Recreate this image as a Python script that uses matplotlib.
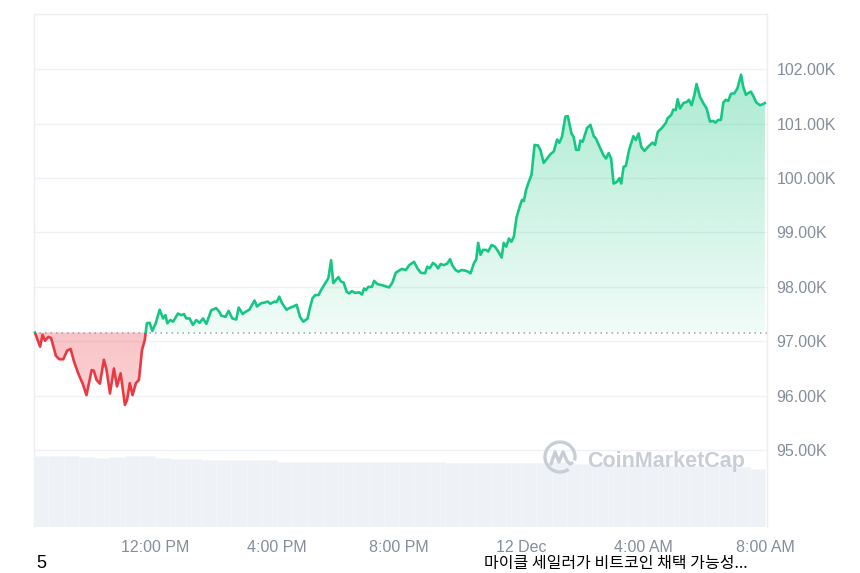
import numpy as np
import matplotlib
matplotlib.use("Agg")
import matplotlib.pyplot as plt
from matplotlib.patches import Rectangle, Arc
from matplotlib.path import Path
from matplotlib.lines import Line2D
from matplotlib.colors import to_rgb

# BTC price, 11 Dec 8 AM -> 12 Dec 8 AM (hours since 11 Dec 00:00, price in K USD)
hours = [
    8.06, 8.23, 8.31, 8.39, 8.50, 8.59, 8.75, 8.86, 8.99, 9.12,
    9.23, 9.34, 9.48, 9.64, 9.75, 9.92, 9.99, 10.08, 10.19, 10.32,
    10.41, 10.52, 10.65, 10.75, 10.87, 11.01, 11.08, 11.17, 11.26, 11.37,
    11.47, 11.57, 11.66, 11.73, 11.82, 11.91, 12.02, 12.15, 12.26, 12.34,
    12.40, 12.50, 12.59, 12.75, 12.86, 12.95, 13.02, 13.13, 13.24, 13.35,
    13.46, 13.57, 13.68, 13.84, 14.00, 14.11, 14.17, 14.31, 14.41, 14.53,
    14.66, 14.74, 14.87, 14.96, 15.09, 15.26, 15.34, 15.48, 15.58, 15.69,
    15.78, 15.91, 15.99, 16.07, 16.16, 16.31, 16.40, 16.53, 16.64, 16.75,
    16.86, 17.00, 17.06, 17.16, 17.25, 17.36, 17.44, 17.58, 17.68, 17.77,
    17.84, 17.93, 18.01, 18.09, 18.18, 18.28, 18.36, 18.45, 18.56, 18.69,
    18.78, 18.85, 18.91, 18.99, 19.11, 19.18, 19.29, 19.45, 19.67, 19.78,
    19.89, 20.00, 20.09, 20.22, 20.33, 20.49, 20.60, 20.71, 20.85, 20.92,
    21.00, 21.11, 21.20, 21.28, 21.36, 21.47, 21.58, 21.67, 21.74, 21.85,
    21.94, 22.05, 22.16, 22.26, 22.34, 22.45, 22.53, 22.59, 22.67, 22.75,
    22.85, 22.92, 23.03, 23.14, 23.25, 23.36, 23.43, 23.51, 23.60, 23.68,
    23.76, 23.85, 23.96, 24.03, 24.09, 24.16, 24.25, 24.34, 24.44, 24.55,
    24.63, 24.74, 24.85, 24.96, 25.07, 25.18, 25.25, 25.34, 25.45, 25.53,
    25.65, 25.72, 25.80, 25.89, 25.94, 26.02, 26.16, 26.27, 26.38, 26.45,
    26.56, 26.70, 26.78, 26.87, 26.95, 27.03, 27.14, 27.22, 27.28, 27.36,
    27.43, 27.54, 27.68, 27.76, 27.85, 27.94, 28.04, 28.17, 28.30, 28.39,
    28.48, 28.61, 28.74, 28.80, 28.92, 28.99, 29.07, 29.13, 29.21, 29.32,
    29.43, 29.50, 29.59, 29.68, 29.75, 29.86, 29.97, 30.08, 30.19, 30.30,
    30.37, 30.46, 30.55, 30.63, 30.71, 30.79, 30.88, 30.99, 31.09, 31.21,
    31.28, 31.37, 31.44, 31.53, 31.61, 31.71, 31.83, 31.93, 31.99,
]
price = [
    97.16, 96.90, 97.12, 97.01, 97.08, 97.06, 96.73, 96.67, 96.67, 96.83,
    96.86, 96.63, 96.41, 96.20, 96.01, 96.47, 96.46, 96.29, 96.22, 96.66,
    96.47, 96.04, 96.50, 96.17, 96.41, 95.83, 95.92, 96.23, 96.01, 96.23,
    96.29, 96.84, 97.02, 97.33, 97.34, 97.19, 97.33, 97.58, 97.42, 97.48,
    97.33, 97.39, 97.36, 97.51, 97.48, 97.50, 97.42, 97.42, 97.30, 97.39,
    97.34, 97.42, 97.32, 97.57, 97.61, 97.54, 97.47, 97.45, 97.56, 97.42,
    97.40, 97.62, 97.50, 97.54, 97.58, 97.75, 97.64, 97.70, 97.71, 97.73,
    97.69, 97.73, 97.72, 97.82, 97.70, 97.58, 97.61, 97.64, 97.67, 97.45,
    97.36, 97.42, 97.58, 97.79, 97.85, 97.85, 97.94, 98.07, 98.16, 98.49,
    98.07, 98.13, 98.18, 98.10, 98.08, 97.91, 97.88, 97.92, 97.89, 97.90,
    97.86, 97.97, 97.94, 98.00, 98.00, 98.11, 98.05, 98.03, 97.99, 98.08,
    98.26, 98.30, 98.33, 98.31, 98.40, 98.46, 98.34, 98.26, 98.25, 98.37,
    98.34, 98.44, 98.40, 98.34, 98.42, 98.40, 98.43, 98.51, 98.40, 98.31,
    98.28, 98.31, 98.30, 98.28, 98.25, 98.43, 98.51, 98.81, 98.59, 98.68,
    98.68, 98.65, 98.77, 98.74, 98.65, 98.54, 98.81, 98.74, 98.89, 98.83,
    98.92, 99.28, 99.49, 99.60, 99.58, 99.78, 99.93, 100.06, 100.61, 100.60,
    100.52, 100.28, 100.36, 100.44, 100.49, 100.71, 100.65, 100.76, 101.13, 101.14,
    100.82, 100.76, 100.52, 100.52, 100.69, 100.67, 100.92, 100.98, 100.77, 100.73,
    100.59, 100.42, 100.36, 100.46, 100.36, 99.90, 99.93, 100.00, 99.90, 100.21,
    100.22, 100.52, 100.77, 100.70, 100.82, 100.57, 100.50, 100.58, 100.65, 100.61,
    100.85, 100.92, 101.01, 101.10, 101.16, 101.26, 101.25, 101.45, 101.28, 101.38,
    101.40, 101.44, 101.34, 101.53, 101.73, 101.50, 101.38, 101.28, 101.04, 101.05,
    101.02, 101.07, 101.07, 101.39, 101.44, 101.42, 101.55, 101.56, 101.65, 101.90,
    101.68, 101.53, 101.56, 101.59, 101.51, 101.39, 101.34, 101.36, 101.38,
]
open_price = 97.16

# volume, 30 minute buckets (relative units)
vol_start = [8.0 + 0.5 * i for i in range(48)]
volume = [
    7.10, 7.10, 7.10, 7.05, 6.95, 7.00, 7.10, 7.10, 6.95, 6.85,
    6.80, 6.75, 6.67, 6.67, 6.67, 6.67, 6.55, 6.53, 6.53, 6.53,
    6.53, 6.53, 6.53, 6.53, 6.53, 6.53, 6.50, 6.43, 6.43, 6.40,
    6.37, 6.37, 6.37, 6.45, 6.50, 6.35, 6.35, 6.30, 6.25, 6.25,
    6.20, 6.15, 6.15, 6.15, 6.15, 6.15, 6.00, 5.85,
]

tick_hours = [12, 16, 20, 24, 28, 32]
tick_labels = ['12:00 PM', '4:00 PM', '8:00 PM', '12 Dec', '4:00 AM', '8:00 AM']
price_ticks = [95, 96, 97, 98, 99, 100, 101, 102]

GREEN = '#16c784'
RED = '#ea3943'
GREY_TXT = '#858d9c'
GRID = '#eff1f4'

assert len(hours) == len(price)
h = np.array(hours)
p = np.array(price)

fig = plt.figure(figsize=(8.6, 5.73), dpi=100)
ax = fig.add_axes([34 / 860, 1 - 527 / 573, (767 - 34) / 860, (527 - 14) / 573])
xmin, xmax = 8.03, 32.06
ymin, ymax = 93.585, 103.017

# volume on a twin axis
axv = ax.twinx()
axv.bar(vol_start, volume, width=0.5, align='edge', color='#eef1f5',
        edgecolor='#f4f6f8', linewidth=0.4, zorder=1)
axv.set_ylim(0, 51.3)
axv.set_yticks([])
for s in axv.spines.values():
    s.set_visible(False)

# fills with gradient
up = ax.fill_between(h, p, open_price, where=p >= open_price, interpolate=True,
                     facecolor='none', linewidth=0)
dn = ax.fill_between(h, p, open_price, where=p <= open_price, interpolate=True,
                     facecolor='none', linewidth=0)

g = np.zeros((256, 1, 4))
g[..., :3] = to_rgb(GREEN)
g[..., 3] = np.linspace(0.06, 0.36, 256)[:, None]
im = ax.imshow(g, extent=[xmin, xmax, open_price, p.max()], origin='lower',
               aspect='auto', zorder=1, interpolation='bilinear')
im.set_clip_path(Path.make_compound_path(*up.get_paths()), transform=ax.transData)

r = np.zeros((256, 1, 4))
r[..., :3] = to_rgb(RED)
r[..., 3] = np.linspace(0.22, 0.30, 256)[:, None]
im2 = ax.imshow(r, extent=[xmin, xmax, p.min(), open_price], origin='lower',
                aspect='auto', zorder=1, interpolation='bilinear')
im2.set_clip_path(Path.make_compound_path(*dn.get_paths()), transform=ax.transData)

# price line, green above open, red below
lg, = ax.plot(h, p, color=GREEN, lw=1.9, zorder=3, solid_joinstyle='round')
lr, = ax.plot(h, p, color=RED, lw=1.9, zorder=3, solid_joinstyle='round')
lg.set_clip_path(Rectangle((0, open_price), 100, 50, transform=ax.transData))
lr.set_clip_path(Rectangle((0, 0), 100, open_price, transform=ax.transData))

ax.axhline(open_price, color='#9aa1ad', lw=1.1, ls=(0, (1, 2.6)), zorder=2)

ax.set_xlim(xmin, xmax)
ax.set_ylim(ymin, ymax)
ax.set_yticks(price_ticks)
ax.set_yticklabels([f'{v:.2f}K' for v in price_ticks])
ax.set_xticks(tick_hours)
ax.set_xticklabels(tick_labels)
ax.yaxis.tick_right()
ax.grid(axis='y', color=GRID, lw=1, zorder=0)
ax.set_axisbelow(True)
ax.tick_params(axis='both', length=0, colors=GREY_TXT, labelsize=11.5)
ax.tick_params(axis='x', pad=9)
ax.tick_params(axis='y', pad=7)
for lab in ax.get_xticklabels() + ax.get_yticklabels():
    lab.set_fontfamily('Liberation Sans')
for side in ['top', 'left', 'right']:
    ax.spines[side].set_color('#eceef2')
    ax.spines[side].set_linewidth(1)
ax.spines['bottom'].set_visible(False)

# watermark
WM = '#c9ced6'
cx, cy, rad = 560 / 860, 1 - 457 / 573, 15
fig.patches.append(Arc((cx, cy), 2 * rad / 860, 2 * rad / 573, theta1=-20, theta2=295,
                       transform=fig.transFigure, color=WM, lw=2.4, zorder=5))
mx = [-9, -5, -1, 3, 7, 10, 12]
my = [-7, 5, -5, 5, -4, -7, -6]
fig.lines.append(Line2D([cx + v / 860 for v in mx], [cy + v / 573 for v in my],
                        transform=fig.transFigure, color=WM, lw=2.4,
                        solid_joinstyle='round', solid_capstyle='round', zorder=5))
fig.text(587 / 860, 1 - 467 / 573, 'CoinMarketCap', color=WM, fontsize=15.5,
         fontweight='bold', family='Liberation Sans', va='baseline', ha='left', zorder=5)

# footer text
fig.text(36 / 860, 1 / 573, '5', fontsize=13, color='black',
         family='Liberation Sans', va='bottom')
fig.text(484 / 860, 1 / 573, '마이클 세일러가 비트코인 채택 가능성...', fontsize=11.5,
         color='black', family=['Noto Sans CJK KR', 'DejaVu Sans'], va='bottom')

fig.savefig('out.png', dpi=100)
